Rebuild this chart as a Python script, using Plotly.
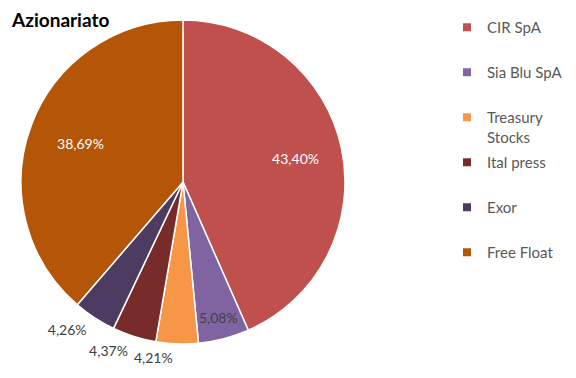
import plotly.graph_objects as go

title = "Azionariato"
labels = ["CIR SpA", "Sia Blu SpA", "Treasury<br>Stocks", "Ital press", "Exor", "Free Float"]
values = [43.40, 5.08, 4.21, 4.37, 4.26, 38.69]
colors = ["#C0504D", "#8064A2", "#F79646", "#772C2A", "#4D3B62", "#B45508"]
text_colors = ["white", "#404040", "#404040", "#404040", "#404040", "white"]
# label placement per overlay layer (each layer lays out its own labels)
pos_inner_a = ["inside", "inside", "none", "none", "none", "none"]
pos_inner_b = ["none", "none", "none", "none", "none", "inside"]
pos_outer_a = ["none", "none", "none", "outside", "outside", "none"]
pos_outer_b = ["none", "none", "outside", "none", "none", "none"]

FONT = "Lato"
W, H = 576, 378
CX, CY = 175, 174  # pie centre in figure pixels


def dom(r):
    return dict(x=[(CX - r) / W, (CX + r) / W], y=[(H - CY - r) / H, (H - CY + r) / H])


fig = go.Figure()
fig.add_trace(go.Pie(
    labels=labels, values=values, sort=False, direction="clockwise", rotation=0,
    marker=dict(colors=colors, line=dict(color="white", width=1.5)),
    textposition="none", showlegend=False, hoverinfo="label+value", domain=dom(162),
))

layers = [(pos_inner_a, 162, 0.42), (pos_inner_b, 162, 0.35),
          (pos_outer_a, 169, 0), (pos_outer_b, 167, 0)]
for pos, r, hole in layers:
    fig.add_trace(go.Pie(
        labels=labels, values=values, sort=False, direction="clockwise", rotation=0,
        hole=hole,
        marker=dict(colors=["rgba(0,0,0,0)"] * len(values), line=dict(width=0)),
        texttemplate="%{value:.2f}%", textposition=pos,
        textfont=dict(color=text_colors, size=14, family=FONT),
        insidetextorientation="horizontal",
        showlegend=False, hoverinfo="skip", domain=dom(r),
    ))

for lab, col in zip(labels, colors):
    name = lab if "<br>" in lab else lab + "<br> "
    fig.add_trace(go.Scatter(
        x=[None], y=[None], mode="markers", name=name, legendgroup=lab,
        marker=dict(symbol="square", size=8, color=col),
    ))

fig.update_layout(
    width=W, height=H, margin=dict(l=0, r=0, t=0, b=0),
    paper_bgcolor="white", plot_bgcolor="white",
    separators=",.",
    title=dict(text="<b>" + title + "</b>", x=4/576, xanchor="left", y=1 - 6/378, yanchor="top",
               pad=dict(t=0, b=0, l=0, r=0),
               font=dict(family=FONT, size=19, color="black")),
    xaxis=dict(visible=False), yaxis=dict(visible=False),
    legend=dict(x=439/576, xanchor="left", y=1 - 3/378, yanchor="top",
                font=dict(family=FONT, size=15, color="#595959"),
                tracegroupgap=3, valign="top", traceorder="grouped",
                bgcolor="rgba(0,0,0,0)"),
)

fig.write_html("out.html")
